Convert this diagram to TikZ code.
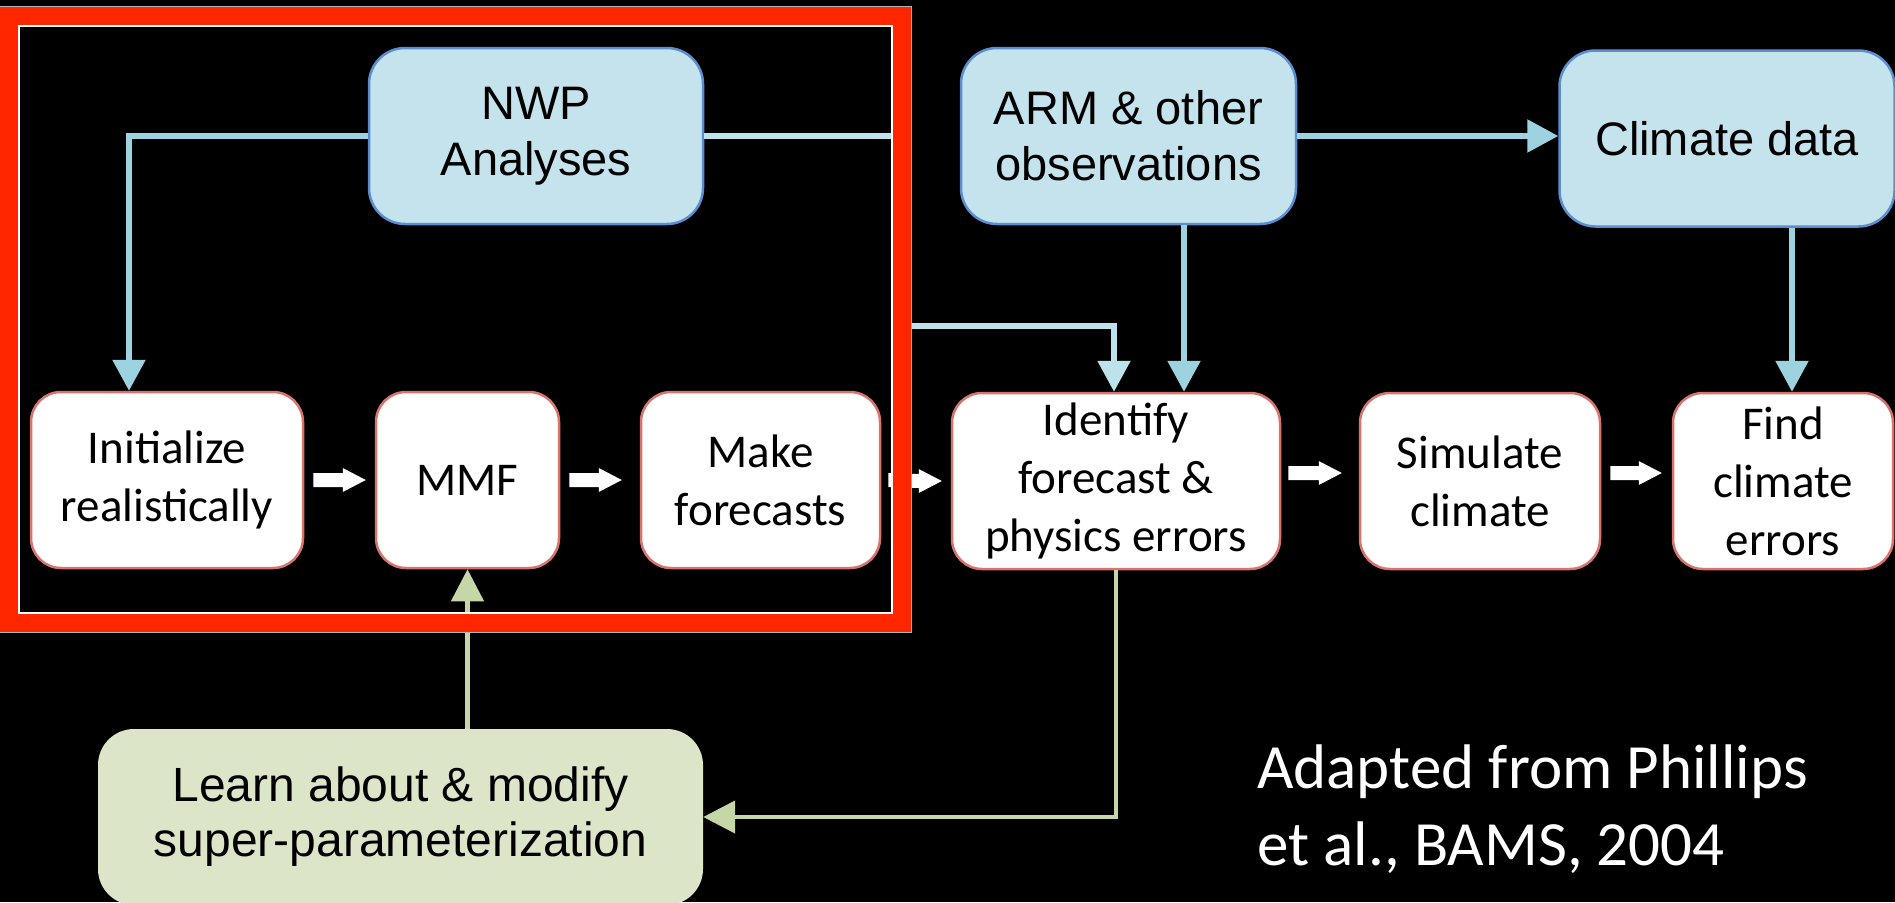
\documentclass[tikz,border=0pt]{standalone}
\usepackage{fontspec}
\newfontfamily\arialf{Liberation Sans}
\newfontfamily\calf{Carlito}
\usetikzlibrary{arrows.meta,calc}
\definecolor{bfill}{HTML}{C4E3EC}
\definecolor{bdraw}{HTML}{5A8ED0}
\definecolor{bline}{HTML}{9DD3E0}
\definecolor{bline2}{HTML}{BEE2EC}
\definecolor{wdraw}{HTML}{D8736E}
\definecolor{framered}{HTML}{FF2600}
\definecolor{gfill}{HTML}{DDE5C8}
\definecolor{gline}{HTML}{C5D7A6}
\newcommand\blkarrow[5]{%
  \fill[white] ($(#1.east)+(#3,#5-7)$) -- ($(#2.west)+(-#4-23,#5-7)$) -- ($(#2.west)+(-#4-23,#5-12)$)
   -- ($(#2.west)+(-#4,#5)$) -- ($(#2.west)+(-#4-23,#5+12)$) -- ($(#2.west)+(-#4-23,#5+7)$)
   -- ($(#1.east)+(#3,#5+7)$) -- cycle;}
\begin{document}
\begin{tikzpicture}[x=1pt,y=-1pt,
  bbox/.style={rectangle, rounded corners=36pt, draw=bdraw, fill=bfill, line width=2.5pt,
    minimum height=176pt, inner sep=0pt, align=center, text=black,
    font=\arialf\fontsize{47}{56}\selectfont},
  wbox/.style={rectangle, rounded corners=30pt, draw=wdraw, fill=white, line width=2.5pt,
    minimum height=176pt, inner sep=0pt, align=center, text=black,
    font=\calf\fontsize{47}{58}\selectfont},
  gbox/.style={rectangle, rounded corners=36pt, fill=gfill,
    minimum height=176pt, inner sep=0pt, align=center, text=black,
    font=\arialf\fontsize{48}{55}\selectfont},
  bl/.style={draw=bline, line width=5.5pt, -{Triangle[width=32pt,length=31pt]}},
  bl2/.style={draw=bline2, line width=5.5pt, -{Triangle[width=32pt,length=31pt]}},
  gr/.style={draw=gline, line width=4.5pt, -{Triangle[width=32pt,length=32pt]}},
]
\useasboundingbox (0,0) rectangle (1895,902);
\fill[black] (0,0) rectangle (1895,902);
\clip (0,0) rectangle (1895,902);

% nodes
\node[bbox, minimum width=334pt] (nwp) at (536,136) {NWP\\Analyses};
\node[bbox, minimum width=335pt] (arm) at (1128.5,136) {ARM \& other\\observations};
\node[bbox, minimum width=335pt] (clim) at (1727,138.5) {Climate data};
\node[wbox, minimum width=272pt] (init) at (167,480) {Initialize\\realistically};
\node[wbox, minimum width=183pt] (mmf) at (467.5,480) {MMF};
\node[wbox, minimum width=239pt] (make) at (760.5,480) {Make\\forecasts};
\node[wbox, minimum width=328pt] (ident) at (1116,481) {Identify\\forecast \&\\physics errors};
\node[wbox, minimum width=240pt] (sim) at (1480,481) {Simulate\\climate};
\node[wbox, minimum width=220pt] (find) at (1783,481) {Find\\climate\\errors};
\node[gbox, minimum width=605pt] (learn) at (400.5,817) {Learn about \& modify\\super-parameterization};

% blue connectors
\draw[bl] (nwp.west) -| ([xshift=-38pt]init.north);
\draw[bl2] (nwp.east) -- (902,136) -- (902,326) -| ([xshift=-2pt]ident.north);
\draw[bl] ([xshift=68pt]ident.north |- arm.south) -- ([xshift=68pt]ident.north);
\draw[bl] (arm.east) -- (clim.west |- arm.east);
\draw[bl] ([xshift=9pt]find.north |- clim.south) -- ([xshift=9pt]find.north);

% green connectors
\draw[gr] (learn.north -| mmf.south) -- (mmf.south);
\draw[gr] (ident.south) |- (learn.east);

% block arrows
\blkarrow{init}{mmf}{9}{9}{0}
\blkarrow{mmf}{make}{9}{18}{0}
\blkarrow{make}{ident}{7}{9}{0}
\blkarrow{ident}{sim}{7}{17}{-8}
\blkarrow{sim}{find}{9}{10}{-8}

% red frame
\draw[gray!60, line width=1.5pt] (-1,7) rectangle (911.5,632.5);
\draw[framered, line width=19pt] (9.5,16.5) rectangle (901.5,622.5);
\draw[white, line width=1.5pt] (19,26) rectangle (892,613);

% credit
\node[anchor=base west, align=left, text=white, inner sep=0pt,
  font=\calf\fontsize{63}{77}\selectfont] (credit) at (1257,865)
  {Adapted from Phillips\\et al., BAMS, 2004};
\end{tikzpicture}
\end{document}
